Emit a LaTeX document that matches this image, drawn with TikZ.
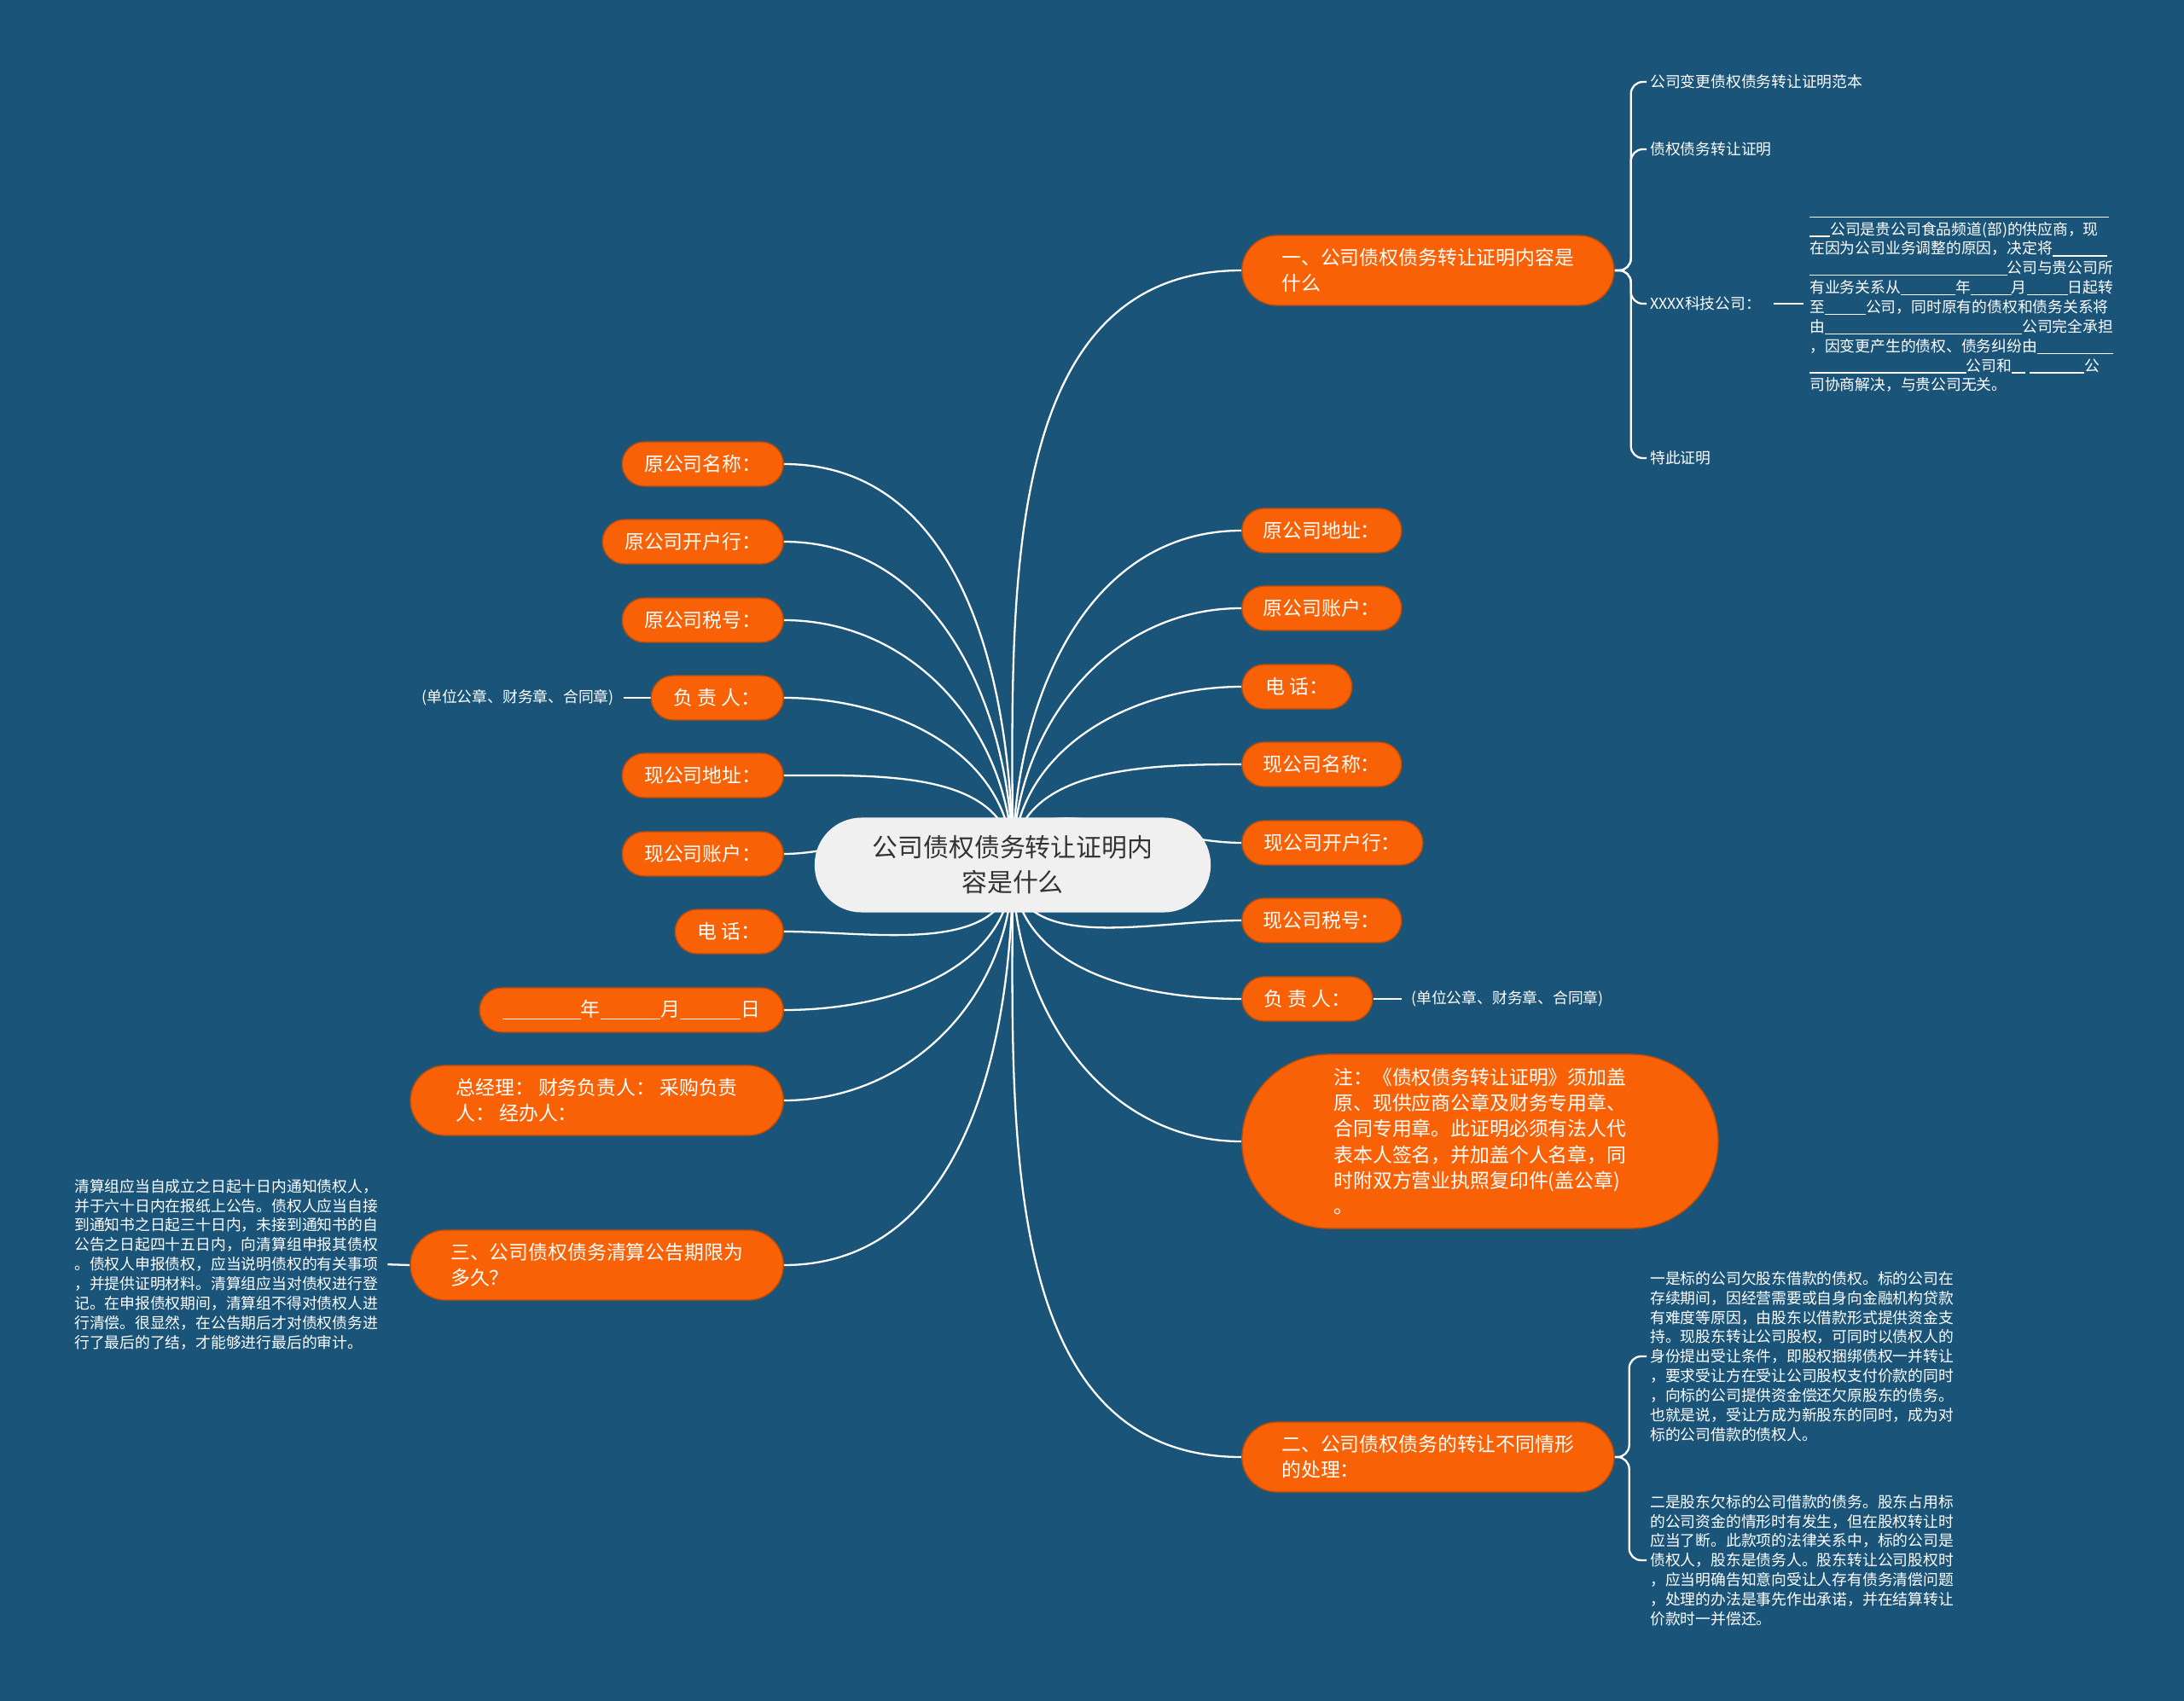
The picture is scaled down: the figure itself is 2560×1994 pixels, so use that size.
\documentclass[tikz,border=0pt]{standalone}
\usepackage{fontspec}
\setmainfont{Noto Sans CJK SC}
\usetikzlibrary{backgrounds}
\definecolor{bgblue}{HTML}{1A5479}
\definecolor{org}{HTML}{F96106}
\definecolor{orgline}{HTML}{B84C0C}
\definecolor{ctrfill}{HTML}{F0F0F0}
\definecolor{ctrtext}{HTML}{333333}
\newcommand\blankline[1]{\rule[-0.15em]{#1em}{0.07em}}
\begin{document}
\begin{tikzpicture}[x=0.01cm,y=-0.01cm,
  conn/.style={draw=white, line width=0.65pt},
  pill/.style={draw=orgline, line width=0.4pt, fill=org, text=white, inner sep=0pt,
    minimum height=0.52cm, rounded corners=0.26cm, font=\fontsize{6.5pt}{8.6pt}\selectfont},
  pilltwo/.style={pill, minimum height=0.82cm, rounded corners=0.41cm, align=left},
  small/.style={text=white, inner sep=1pt, font=\fontsize{5.06pt}{6.5pt}\selectfont, align=left},
]
\useasboundingbox (0,0) rectangle (2560,1994);

% centre
\node[draw=none, fill=ctrfill, text=ctrtext, minimum width=4.64cm, minimum height=1.11cm,
  rounded corners=0.55cm, align=center, inner sep=0pt,
  font=\fontsize{8.5pt}{11.6pt}\selectfont] (c) at (1187,1014) {公司债权债务转让证明内\\容是什么};

% right side
\node[pilltwo, anchor=west, minimum width=4.36cm] (r1) at (1455,317) {一、公司债权债务转让证明内容是\\什么};
\node[pill, anchor=west, minimum width=1.87cm] (ra) at (1455,622) {原公司地址：};
\node[pill, anchor=west, minimum width=1.87cm] (rb) at (1455,713) {原公司账户：};
\node[pill, anchor=west, minimum width=1.29cm] (rc) at (1455,805) {电 话：};
\node[pill, anchor=west, minimum width=1.87cm] (rd) at (1455,896) {现公司名称：};
\node[pill, anchor=west, minimum width=2.12cm] (re) at (1455,988) {现公司开户行：};
\node[pill, anchor=west, minimum width=1.87cm] (rf) at (1455,1079) {现公司税号：};
\node[pill, anchor=west, minimum width=1.53cm] (rg) at (1455,1171) {负 责 人：};
\node[pill, anchor=west, minimum width=5.58cm, minimum height=2.04cm, rounded corners=1.02cm, align=left] (rn) at (1455,1338)
  {注：《债权债务转让证明》须加盖\\原、现供应商公章及财务专用章、\\合同专用章。此证明必须有法人代\\表本人签名，并加盖个人名章，同\\时附双方营业执照复印件(盖公章)\\。};
\node[pilltwo, anchor=west, minimum width=4.36cm] (r2) at (1455,1708) {二、公司债权债务的转让不同情形\\的处理：};

% left side
\node[pill, anchor=east, minimum width=1.89cm] (la) at (919,544) {原公司名称：};
\node[pill, anchor=east, minimum width=2.12cm] (lb) at (919,635) {原公司开户行：};
\node[pill, anchor=east, minimum width=1.89cm] (lc) at (919,727) {原公司税号：};
\node[pill, anchor=east, minimum width=1.55cm] (ld) at (919,818) {负 责 人：};
\node[pill, anchor=east, minimum width=1.89cm] (le) at (919,909) {现公司地址：};
\node[pill, anchor=east, minimum width=1.89cm] (lf) at (919,1001) {现公司账户：};
\node[pill, anchor=east, minimum width=1.27cm] (lg) at (919,1092) {电 话：};
\node[pill, anchor=east, minimum width=3.56cm] (lh) at (919,1184) {\blankline{4}年\blankline{3.1}月\blankline{3.1}日};
\node[pilltwo, anchor=east, minimum width=4.37cm] (li) at (919,1290) {总经理： 财务负责人： 采购负责\\人： 经办人：};
\node[pilltwo, anchor=east, minimum width=4.37cm] (l3) at (919,1483) {三、公司债权债务清算公告期限为\\多久？};

% small texts, top right
\node[small, anchor=west] (t1) at (1930,96) {公司变更债权债务转让证明范本};
\node[small, anchor=west] (t2) at (1930,175) {债权债务转让证明};
\node[small, anchor=west] (t3) at (1930,356) {XXXX科技公司：};
\node[small, anchor=west] (t4) at (1930,537) {特此证明};
\node[small, anchor=west, font=\fontsize{5.06pt}{6.5pt}\selectfont] (tb) at (2117,356)
  {\blankline{19.7}\\
   \blankline{1.35}公司是贵公司食品频道(部)的供应商，现\\
   在因为公司业务调整的原因，决定将\blankline{3.6}\\
   \blankline{13}公司与贵公司所\\
   有业务关系从\blankline{3.6}年\blankline{2.7}月\blankline{2.7}日起转\\
   至\blankline{2.7}公司，同时原有的债权和债务关系将\\
   由\blankline{13}公司完全承担\\
   ，因变更产生的债权、债务纠纷由\blankline{5}\\
   \blankline{10.3}公司和\blankline{0.9}\hspace{0.3em}\blankline{3.6}公\\
   司协商解决，与贵公司无关。};

\node[small, anchor=west] (rgx) at (1650,1171) {(单位公章、财务章、合同章)};
\node[small, anchor=east] (ldx) at (724,818) {(单位公章、财务章、合同章)};

% bottom right blocks
\node[small, anchor=west] (b1) at (1930,1590)
  {一是标的公司欠股东借款的债权。标的公司在\\
   存续期间，因经营需要或自身向金融机构贷款\\
   有难度等原因，由股东以借款形式提供资金支\\
   持。现股东转让公司股权，可同时以债权人的\\
   身份提出受让条件，即股权捆绑债权一并转让\\
   ，要求受让方在受让公司股权支付价款的同时\\
   ，向标的公司提供资金偿还欠原股东的债务。\\
   也就是说，受让方成为新股东的同时，成为对\\
   标的公司借款的债权人。};
\node[small, anchor=west] (b2) at (1930,1829)
  {二是股东欠标的公司借款的债务。股东占用标\\
   的公司资金的情形时有发生，但在股权转让时\\
   应当了断。此款项的法律关系中，标的公司是\\
   债权人，股东是债务人。股东转让公司股权时\\
   ，应当明确告知意向受让人存有债务清偿问题\\
   ，处理的办法是事先作出承诺，并在结算转让\\
   价款时一并偿还。};

% left block
\node[small, anchor=west] (lbk) at (83,1482)
  {清算组应当自成立之日起十日内通知债权人，\\
   并于六十日内在报纸上公告。债权人应当自接\\
   到通知书之日起三十日内，未接到通知书的自\\
   公告之日起四十五日内，向清算组申报其债权\\
   。债权人申报债权，应当说明债权的有关事项\\
   ，并提供证明材料。清算组应当对债权进行登\\
   记。在申报债权期间，清算组不得对债权人进\\
   行清偿。很显然，在公告期后才对债权债务进\\
   行了最后的了结，才能够进行最后的审计。};

\begin{pgfonlayer}{background}
\fill[bgblue] (0,0) rectangle (2560,1994);
% main branches
\foreach \n in {r1,ra,rb,rc,rd,re}
  \draw[conn] (c.center) to[out=90,in=180] (\n.west);
\foreach \n in {rf,rg,rn,r2}
  \draw[conn] (c.center) to[out=270,in=180] (\n.west);
\foreach \n in {la,lb,lc,ld,le,lf}
  \draw[conn] (c.center) to[out=90,in=0] (\n.east);
\foreach \n in {lg,lh,li,l3}
  \draw[conn] (c.center) to[out=270,in=0] (\n.east);
% sub branches
\foreach \n in {t1,t2,t3,t4}
  \draw[conn, rounded corners=0.14cm] (r1.east) -- ++(19,0) |- (\n.west);
\foreach \n in {b1,b2}
  \draw[conn, rounded corners=0.14cm] (r2.east) -- ++(17,0) |- (\n.west);
\draw[conn, shorten <=3pt, shorten >=1pt] (t3.east) -- (tb.west);
\draw[conn, shorten >=2pt] (rg.east) -- (rgx.west);
\draw[conn, shorten >=2pt] (ld.west) -- (ldx.east);
\draw[conn, shorten >=2pt] (l3.west) -- (lbk.east);
\end{pgfonlayer}
\end{tikzpicture}
\end{document}
